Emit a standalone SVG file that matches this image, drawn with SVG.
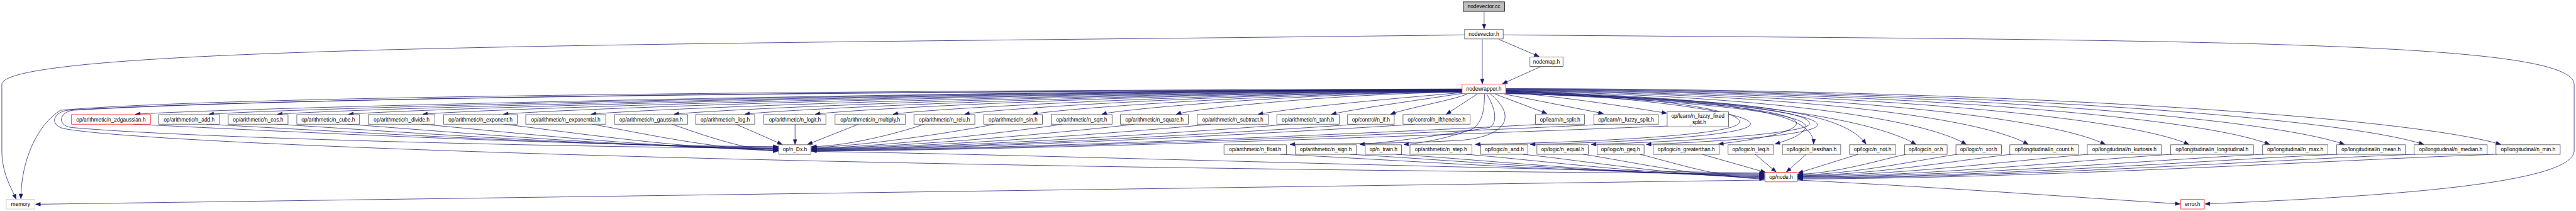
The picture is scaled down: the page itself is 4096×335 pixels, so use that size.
<svg xmlns="http://www.w3.org/2000/svg" width="4096" height="335" viewBox="0 0 4096 335">
<defs>
<marker id="a" markerUnits="userSpaceOnUse" markerWidth="16" markerHeight="12" refX="13" refY="5" orient="auto" overflow="visible"><path d="M0,0 L13,5 L0,10 z" fill="#191970" stroke="#191970" stroke-width="1"/></marker>
<style>
.n rect{fill:#ffffff;stroke:#404040;stroke-width:1.3}
.r rect{stroke:#ff0000}
.g rect{stroke:#bfbfbf}
.t rect{fill:#bfbfbf;stroke:#000000}
text{font-family:"Liberation Sans",Arial,Helvetica,sans-serif;font-size:14.5px;fill:#000;text-anchor:middle}
#edges path{fill:none;stroke:#191970;stroke-width:1.3;marker-end:url(#a)}
</style>
</defs>
<rect width="4096" height="335" fill="#ffffff"/>
<g transform="scale(0.58339)">
<g id="edges">
<path d="M4045,32 L4045,79"/>
<path d="M4040,107 L4040,228"/>
<path d="M4085,107 L4195,154"/>
<path d="M4200,181 L4095,228"/>
<path d="M3992,95 C2000,120 5,120 5,230 L5,410 C5,470 30,510 44,542"/>
<path d="M4097,95 C6000,110 7016,110 7016,230 L7016,410 C7016,500 6500,535 6010,555"/>
<path d="M3985,242 C2200,247 600,262 165,300 C100,340 57,440 57,541"/>
<path d="M3985,243 C2200,249 800,266 200,300 C160,305 155,342 195,347 C500,375 1500,400 2121,404"/>
<path d="M3985,244 C2200,250 700,268 185,300 C140,306 135,345 180,351 C400,390 2000,455 4809,473"/>
<path d="M3985,244 C2539,246 586,295 369,311"/>
<path d="M3985,244 C2619,246 774,295 569,311"/>
<path d="M3985,245 C2693,247 950,295 756,311"/>
<path d="M3985,245 C2771,247 1132,295 950,311"/>
<path d="M3985,246 C2852,248 1322,295 1152,311"/>
<path d="M3985,246 C2940,248 1529,295 1372,311"/>
<path d="M3985,247 C3035,249 1753,295 1611,311"/>
<path d="M3985,247 C3126,249 1966,295 1837,311"/>
<path d="M3985,248 C3203,250 2147,295 2030,311"/>
<path d="M3985,248 C3280,250 2328,295 2222,311"/>
<path d="M3985,249 C3365,251 2527,295 2434,311"/>
<path d="M3985,249 C3443,251 2710,295 2629,311"/>
<path d="M3985,250 C3517,252 2885,295 2815,311"/>
<path d="M3985,250 C3592,252 3062,295 3003,311"/>
<path d="M3985,251 C3673,253 3253,295 3206,311"/>
<path d="M3985,252 C3800,268 3550,290 3429,311"/>
<path d="M3987,254 C3850,275 3700,295 3629,311"/>
<path d="M3999,256 C3950,275 3830,295 3790,311"/>
<path d="M4026,256 L3942,311"/>
<path d="M4075,256 L4216,309"/>
<path d="M4100,256 L4370,309"/>
<path d="M4104,250 C4300,268 4460,295 4543,308"/>
<path d="M4062,256 C4140,320 4100,372 3980,382 C3800,392 3600,391 3516,393"/>
<path d="M4052,256 C4085,310 4075,340 4060,347 C3900,372 3780,388 3706,393"/>
<path d="M4046,256 C4046,300 4040,330 4016,350 C3950,375 3880,390 3826,393"/>
<path d="M4104,246 C4500,262 4760,300 4740,335 C4720,370 4300,388 4021,393"/>
<path d="M4104,248 C4500,266 4790,310 4770,340 C4750,372 4400,388 4171,393"/>
<path d="M4104,250 C4600,264 4960,300 4930,340 C4900,365 4600,385 4337,393"/>
<path d="M4104,251 C4650,266 4990,310 4950,345 C4920,368 4700,385 4487,393"/>
<path d="M4104,252 C4600,270 4920,300 4895,340 C4880,365 4760,383 4684,392"/>
<path d="M4104,253 C4650,275 4950,310 4920,350 C4905,372 4870,382 4838,392"/>
<path d="M4104,254 C4700,270 4945,300 4943,392"/>
<path d="M4104,255 C4750,268 5020,300 5086,392"/>
<path d="M4104,249 C4700,262 5100,320 5222,393"/>
<path d="M4104,248 C4780,258 5240,320 5359,393"/>
<path d="M4104,247 C4900,255 5400,320 5528,393"/>
<path d="M4104,246 C5000,253 5590,320 5738,393"/>
<path d="M4104,245 C5100,250 5800,320 5966,393"/>
<path d="M4104,244 C5200,248 6000,320 6186,393"/>
<path d="M4104,243 C5300,246 6180,320 6390,393"/>
<path d="M4104,242 C5400,244 6380,320 6606,393"/>
<path d="M4104,241 C5500,242 6570,320 6816,393"/>
<path d="M363,338 C627,350 1506,397 2121,399"/>
<path d="M563,338 C797,350 1576,399 2121,401"/>
<path d="M754,338 C959,350 1643,401 2121,403"/>
<path d="M946,338 C1122,350 1710,403 2121,405"/>
<path d="M1148,338 C1294,350 1780,405 2121,407"/>
<path d="M1372,338 C1484,350 1859,407 2121,409"/>
<path d="M1613,338 C1689,350 1943,408 2121,410"/>
<path d="M1831,338 C1875,352 2020,409 2121,411"/>
<path d="M2006,338 L2132,393"/>
<path d="M2167,338 L2167,393"/>
<path d="M2340,338 L2201,393"/>
<path d="M2518,338 C2480,352 2330,397 2212,399"/>
<path d="M2709,338 C2659,350 2361,399 2212,401"/>
<path d="M2895,338 C2827,350 2417,401 2212,403"/>
<path d="M3091,338 C3003,350 2476,402 2212,404"/>
<path d="M3300,338 C3191,350 2538,403 2212,405"/>
<path d="M3514,338 C3384,350 2603,404 2212,406"/>
<path d="M3698,338 C3549,350 2658,405 2212,407"/>
<path d="M3856,338 C3692,350 2705,406 2212,408"/>
<path d="M4203,338 C4004,350 2809,407 2212,409"/>
<path d="M4375,338 C4159,350 2861,408 2212,410"/>
<path d="M4544,343 C4310,352 2912,409 2212,411"/>
<path d="M2210,412 C2800,420 4000,460 4809,471"/>
<path d="M3490,420 C3754,432 4347,474 4809,475"/>
<path d="M3680,420 C3906,432 4414,476 4809,477"/>
<path d="M3805,420 C4006,432 4458,478 4809,479"/>
<path d="M3995,420 C4158,432 4524,480 4809,481"/>
<path d="M4150,420 C4282,432 4578,482 4809,483"/>
<path d="M4315,420 C4414,434 4636,484 4809,485"/>
<path d="M4470,420 C4538,436 4690,486 4809,487"/>
<path d="M4639,420 L4812,469"/>
<path d="M4784,420 L4841,468"/>
<path d="M4923,420 L4869,468"/>
<path d="M5064,420 L4901,471"/>
<path d="M5195,420 C5136,432 5003,473 4900,474"/>
<path d="M5335,420 C5248,432 5052,475 4900,476"/>
<path d="M5482,420 C5366,432 5104,477 4900,478"/>
<path d="M5692,420 C5534,432 5177,478 4900,479"/>
<path d="M5920,420 C5716,432 5257,480 4900,481"/>
<path d="M6170,420 C5916,432 5345,481 4900,482"/>
<path d="M6372,420 C6078,432 5415,483 4900,484"/>
<path d="M6583,420 C6246,432 5489,484 4900,485"/>
<path d="M6806,420 C6425,432 5567,486 4900,487"/>
<path d="M4811,490 L97,556"/>
<path d="M4898,490 C5300,510 5700,540 5942,555"/>
</g>
<g id="n_top" class="n t"><rect x="3988" y="5" width="113" height="26"/><text x="4044.5" y="23">nodevector.cc</text></g>
<g id="n_vec" class="n"><rect x="3992" y="80" width="105" height="26"/><text x="4044.5" y="98">nodevector.h</text></g>
<g id="n_map" class="n"><rect x="4170" y="155" width="90" height="26"/><text x="4215" y="173">nodemap.h</text></g>
<g id="n_wrap" class="n r"><rect x="3985" y="229" width="119" height="26"/><text x="4044.5" y="247">nodewrapper.h</text></g>
<g id="n_2dgaussian" class="n r"><rect x="195" y="312" width="215" height="26"/><text x="302.5" y="330">op/arithmetic/n_2dgaussian.h</text></g>
<g id="n_add" class="n"><rect x="433" y="312" width="165" height="26"/><text x="515.5" y="330">op/arithmetic/n_add.h</text></g>
<g id="n_cos" class="n"><rect x="622" y="312" width="163" height="26"/><text x="703.5" y="330">op/arithmetic/n_cos.h</text></g>
<g id="n_cube" class="n"><rect x="809" y="312" width="171" height="26"/><text x="894.5" y="330">op/arithmetic/n_cube.h</text></g>
<g id="n_divide" class="n"><rect x="1004" y="312" width="181" height="26"/><text x="1094.5" y="330">op/arithmetic/n_divide.h</text></g>
<g id="n_exponent" class="n"><rect x="1209" y="312" width="201" height="26"/><text x="1309.5" y="330">op/arithmetic/n_exponent.h</text></g>
<g id="n_exponential" class="n"><rect x="1433" y="312" width="218" height="26"/><text x="1542" y="330">op/arithmetic/n_exponential.h</text></g>
<g id="n_gaussian" class="n"><rect x="1675" y="312" width="199" height="26"/><text x="1774.5" y="330">op/arithmetic/n_gaussian.h</text></g>
<g id="n_log" class="n"><rect x="1896" y="312" width="161" height="26"/><text x="1976.5" y="330">op/arithmetic/n_log.h</text></g>
<g id="n_logit" class="n"><rect x="2082" y="312" width="169" height="26"/><text x="2166.5" y="330">op/arithmetic/n_logit.h</text></g>
<g id="n_multiply" class="n"><rect x="2276" y="312" width="192" height="26"/><text x="2372" y="330">op/arithmetic/n_multiply.h</text></g>
<g id="n_relu" class="n"><rect x="2491" y="312" width="166" height="26"/><text x="2574" y="330">op/arithmetic/n_relu.h</text></g>
<g id="n_sin" class="n"><rect x="2681" y="312" width="160" height="26"/><text x="2761" y="330">op/arithmetic/n_sin.h</text></g>
<g id="n_sqrt" class="n"><rect x="2865" y="312" width="166" height="26"/><text x="2948" y="330">op/arithmetic/n_sqrt.h</text></g>
<g id="n_square" class="n"><rect x="3054" y="312" width="185" height="26"/><text x="3146.5" y="330">op/arithmetic/n_square.h</text></g>
<g id="n_subtract" class="n"><rect x="3263" y="312" width="194" height="26"/><text x="3360" y="330">op/arithmetic/n_subtract.h</text></g>
<g id="n_tanh" class="n"><rect x="3480" y="312" width="170" height="26"/><text x="3565" y="330">op/arithmetic/n_tanh.h</text></g>
<g id="n_if" class="n"><rect x="3673" y="312" width="127" height="26"/><text x="3736.5" y="330">op/control/n_if.h</text></g>
<g id="n_ifthenelse" class="n"><rect x="3824" y="312" width="183" height="26"/><text x="3915.5" y="330">op/control/n_ifthenelse.h</text></g>
<g id="n_split" class="n"><rect x="4185" y="312" width="134" height="26"/><text x="4252" y="330">op/learn/n_split.h</text></g>
<g id="n_fuzzy_split" class="n"><rect x="4344" y="312" width="176" height="26"/><text x="4432" y="330">op/learn/n_fuzzy_split.h</text></g>
<g id="n_fuzzy_fixed_split" class="n"><rect x="4544" y="304" width="167" height="41"/><text x="4627.5" y="321">op/learn/n_fuzzy_fixed</text><text x="4627.5" y="337">_split.h</text></g>
<g id="n_Dx" class="n"><rect x="2123" y="394" width="87" height="26"/><text x="2166.5" y="412">op/n_Dx.h</text></g>
<g id="n_float" class="n"><rect x="3336" y="394" width="170" height="26"/><text x="3421" y="412">op/arithmetic/n_float.h</text></g>
<g id="n_sign" class="n"><rect x="3530" y="394" width="167" height="26"/><text x="3613.5" y="412">op/arithmetic/n_sign.h</text></g>
<g id="n_train" class="n"><rect x="3721" y="394" width="99" height="26"/><text x="3770.5" y="412">op/n_train.h</text></g>
<g id="n_step" class="n"><rect x="3843" y="394" width="169" height="26"/><text x="3927.5" y="412">op/arithmetic/n_step.h</text></g>
<g id="n_and" class="n"><rect x="4036" y="394" width="128" height="26"/><text x="4100" y="412">op/logic/n_and.h</text></g>
<g id="n_equal" class="n"><rect x="4189" y="394" width="140" height="26"/><text x="4259" y="412">op/logic/n_equal.h</text></g>
<g id="n_geq" class="n"><rect x="4353" y="394" width="128" height="26"/><text x="4417" y="412">op/logic/n_geq.h</text></g>
<g id="n_greaterthan" class="n"><rect x="4506" y="394" width="180" height="26"/><text x="4596" y="412">op/logic/n_greaterthan.h</text></g>
<g id="n_leq" class="n"><rect x="4710" y="394" width="124" height="26"/><text x="4772" y="412">op/logic/n_leq.h</text></g>
<g id="n_lessthan" class="n"><rect x="4858" y="394" width="159" height="26"/><text x="4937.5" y="412">op/logic/n_lessthan.h</text></g>
<g id="n_not" class="n"><rect x="5041" y="394" width="126" height="26"/><text x="5104" y="412">op/logic/n_not.h</text></g>
<g id="n_or" class="n"><rect x="5191" y="394" width="116" height="26"/><text x="5249" y="412">op/logic/n_or.h</text></g>
<g id="n_xor" class="n"><rect x="5331" y="394" width="124" height="26"/><text x="5393" y="412">op/logic/n_xor.h</text></g>
<g id="n_count" class="n"><rect x="5478" y="394" width="187" height="26"/><text x="5571.5" y="412">op/longitudinal/n_count.h</text></g>
<g id="n_kurtosis" class="n"><rect x="5689" y="394" width="202" height="26"/><text x="5790" y="412">op/longitudinal/n_kurtosis.h</text></g>
<g id="n_longitudinal" class="n"><rect x="5916" y="394" width="226" height="26"/><text x="6029" y="412">op/longitudinal/n_longitudinal.h</text></g>
<g id="n_max" class="n"><rect x="6167" y="394" width="178" height="26"/><text x="6256" y="412">op/longitudinal/n_max.h</text></g>
<g id="n_mean" class="n"><rect x="6369" y="394" width="187" height="26"/><text x="6462.5" y="412">op/longitudinal/n_mean.h</text></g>
<g id="n_median" class="n"><rect x="6580" y="394" width="199" height="26"/><text x="6679.5" y="412">op/longitudinal/n_median.h</text></g>
<g id="n_min" class="n"><rect x="6803" y="394" width="175" height="26"/><text x="6890.5" y="412">op/longitudinal/n_min.h</text></g>
<g id="n_node" class="n r"><rect x="4811" y="469" width="87" height="26"/><text x="4854.5" y="487">op/node.h</text></g>
<g id="n_memory" class="n g"><rect x="17" y="543" width="78" height="26"/><text x="56" y="561">memory</text></g>
<g id="n_error" class="n r"><rect x="5944" y="543" width="64" height="26"/><text x="5976" y="561">error.h</text></g>
</g>
</svg>
